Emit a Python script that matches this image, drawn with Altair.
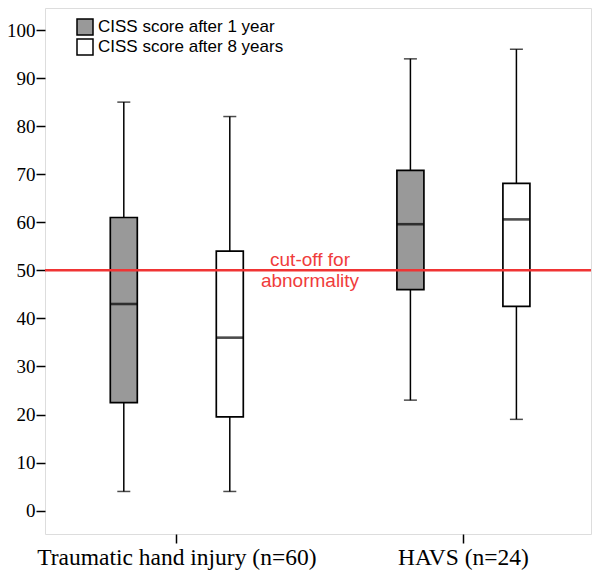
import altair as alt
import pandas as pd

groups = ["Traumatic hand injury (n=60)", "Traumatic hand injury (n=60)", "HAVS (n=24)", "HAVS (n=24)"]
group_order = ["Traumatic hand injury (n=60)", "HAVS (n=24)"]
series = ["CISS score after 1 year", "CISS score after 8 years", "CISS score after 1 year", "CISS score after 8 years"]
series_order = ["CISS score after 1 year", "CISS score after 8 years"]
whisker_low = [4, 4, 23, 19]
q1 = [22.5, 19.5, 46, 42.5]
median = [43, 36, 59.6, 60.6]
q3 = [61, 54, 70.8, 68.1]
whisker_high = [85, 82, 94, 96]
y_ticks = [0, 10, 20, 30, 40, 50, 60, 70, 80, 90, 100]
cutoff = [50]
cutoff_label = ["cut-off for", "abnormality"]

df = pd.DataFrame({
    "group": groups, "series": series, "lo": whisker_low, "q1": q1,
    "med": median, "q3": q3, "hi": whisker_high,
})
cut_df = pd.DataFrame({"cutoff": cutoff})

xscale = alt.Scale(domain=group_order, paddingInner=0.2, paddingOuter=0.0525, align=0.57)
xoff_scale = alt.Scale(domain=series_order, paddingInner=0, paddingOuter=0.0816)
yscale = alt.Scale(domain=[-4.85, 104.58], nice=False, zero=False)

X = alt.X("group:N", scale=xscale, sort=group_order, title=None,
          axis=alt.Axis(labelAngle=0, labelFont="Liberation Serif", labelFontSize=23.5,
                        labelColor="black", tickSize=9, tickWidth=1.5, tickColor="black",
                        labelPadding=2, domain=False, labelLimit=400))
XO = alt.XOffset("series:N", scale=xoff_scale, sort=series_order)
Yaxis = alt.Axis(values=y_ticks, labelFont="Liberation Serif", labelFontSize=19,
                 labelColor="black", tickSize=9, tickWidth=1.5, tickColor="black",
                 labelPadding=1, domain=False, grid=False)

base = alt.Chart(df)

whisk = base.mark_rule(color="black", strokeWidth=1.5).encode(
    x=X, xOffset=XO,
    y=alt.Y("lo:Q", scale=yscale, axis=Yaxis, title=None),
    y2="hi:Q",
)
cap_lo = base.mark_tick(color="black", size=13, thickness=1.5).encode(
    x=X, xOffset=XO, y=alt.Y("lo:Q", scale=yscale))
cap_hi = base.mark_tick(color="black", size=13, thickness=1.5).encode(
    x=X, xOffset=XO, y=alt.Y("hi:Q", scale=yscale))
box = base.mark_bar(width=27, stroke="black", strokeWidth=1.7, opacity=1).encode(
    x=X, xOffset=XO,
    y=alt.Y("q1:Q", scale=yscale),
    y2="q3:Q",
    fill=alt.Fill("series:N", scale=alt.Scale(domain=series_order, range=["#999999", "#ffffff"]),
                  legend=alt.Legend(title=None, orient="none", legendX=31, legendY=10,
                                    symbolType="square", symbolSize=256,
                                    symbolStrokeColor="black", symbolStrokeWidth=1.5,
                                    symbolOpacity=1, labelFont="Liberation Sans",
                                    labelFontSize=17, labelColor="black", labelOffset=4,
                                    rowPadding=-2, padding=0, labelLimit=400)),
)
med = base.mark_tick(color="black", size=27, thickness=2.6).encode(
    x=X, xOffset=XO, y=alt.Y("med:Q", scale=yscale))

line = alt.Chart(cut_df).mark_rule(color="#f03434", strokeWidth=2.5).encode(
    y=alt.Y("cutoff:Q", scale=yscale))
label = alt.Chart(cut_df).mark_text(
    text=cutoff_label, color="#f03c3c", font="Liberation Sans", fontSize=19,
    lineHeight=21, align="center", baseline="middle", dy=-10.5).encode(
    x=alt.value(265), y=alt.Y("cutoff:Q", scale=yscale))

chart = alt.layer(whisk, cap_lo, cap_hi, box, med, line, label).properties(
    width=546, height=526,
    autosize=alt.AutoSizeParams(type="none"),
    padding={"left": 37, "top": 0, "right": 1, "bottom": 40},
).configure_view(stroke="black", strokeWidth=1.6).configure(background="white")

chart.save("out.html", embed_options={"renderer": "svg", "actions": False})
